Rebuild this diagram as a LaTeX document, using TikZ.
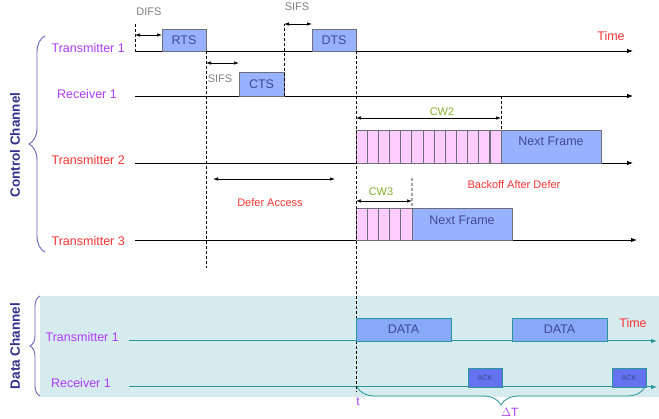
\documentclass[tikz,border=0pt]{standalone}
\usepackage{fontspec}
\setmainfont{Liberation Sans}
\usetikzlibrary{positioning,arrows.meta,decorations.pathreplacing}
\definecolor{lblpurple}{RGB}{175,60,250}
\definecolor{lblred}{RGB}{250,50,50}
\definecolor{lblgreen}{RGB}{135,175,45}
\definecolor{lblgray}{RGB}{128,128,128}
\definecolor{chanblue}{RGB}{50,50,140}
\definecolor{bracecol}{RGB}{100,100,185}
\definecolor{framefill}{RGB}{153,178,255}
\definecolor{framedraw}{RGB}{110,110,120}
\definecolor{boxtext}{RGB}{64,72,150}
\definecolor{slotpink}{RGB}{255,204,255}
\definecolor{databg}{RGB}{214,235,238}
\definecolor{datateal}{RGB}{40,150,150}
\definecolor{datafill}{RGB}{136,168,248}
\definecolor{ackfill}{RGB}{100,115,240}
\tikzset{
  axis/.style={line width=0.8pt, -{Latex[length=6pt,width=4.5pt]}},
  dataaxis/.style={axis, draw=datateal, line width=1pt},
  frame/.style={draw=framedraw, fill=framefill, line width=0.8pt, inner sep=0pt, outer sep=0pt,
    anchor=south west, text=boxtext, font=\fontsize{12.5}{14}\selectfont},
  dataframe/.style={frame, draw=datateal, fill=datafill},
  ackframe/.style={frame, draw=datateal, fill=ackfill, font=\fontsize{7.5}{9}\selectfont},
  slot/.style={draw=framedraw, fill=slotpink, line width=0.7pt, inner sep=0pt, outer sep=0pt, anchor=south west},
  span/.style={{Latex[length=5pt,width=3.5pt]}-{Latex[length=5pt,width=3.5pt]}, line width=0.7pt},
  guide/.style={dash pattern=on 3pt off 2pt, line width=0.6pt},
  rowlbl/.style={anchor=east, inner sep=0pt, font=\fontsize{12.5}{14}\selectfont},
  smalllbl/.style={inner sep=0pt, font=\fontsize{11}{13}\selectfont},
  frametext/.style={inner sep=0pt, text=boxtext, font=\fontsize{12.5}{14}\selectfont},
  chanlbl/.style={rotate=90, inner sep=0pt, text=chanblue, font=\bfseries\fontsize{13.5}{15}\selectfont},
  chanbrace/.style={draw=bracecol, line width=0.9pt, decorate}
}
\begin{document}
\begin{tikzpicture}[x=1pt,y=-1pt]
  \useasboundingbox (0,0) rectangle (659,419);
  % data channel background
  \fill[databg] (40,296) rectangle (659,397);

  % control channel time axes
  \coordinate (ct1a) at (135,51);  \coordinate (ct1b) at (633,51);
  \coordinate (cr1a) at (135,96);  \coordinate (cr1b) at (633,96);
  \coordinate (ct2a) at (135,163); \coordinate (ct2b) at (633,163);
  \coordinate (ct3a) at (135,240); \coordinate (ct3b) at (637,240);
  \draw[axis] (ct1a) -- (ct1b);
  \draw[axis] (cr1a) -- (cr1b);
  \draw[axis] (ct2a) -- (ct2b);
  \draw[axis] (ct3a) -- (ct3b);

  % data channel time axes
  \coordinate (dt1a) at (129,341); \coordinate (dt1b) at (657,341);
  \coordinate (dr1a) at (129,387); \coordinate (dr1b) at (657,387);
  \draw[dataaxis] (dt1a) -- (dt1b);
  \draw[dataaxis] (dr1a) -- (dr1b);

  % row labels
  \node[rowlbl, text=lblpurple] (ct1) at (125,48) {Transmitter 1};
  \node[rowlbl, text=lblpurple] (cr1) at (117,94) {Receiver 1};
  \node[rowlbl, text=lblred] (ct2) at (125,160) {Transmitter 2};
  \node[rowlbl, text=lblred] (ct3) at (125,241) {Transmitter 3};
  \node[rowlbl, text=lblpurple] (dt1) at (119,337) {Transmitter 1};
  \node[rowlbl, text=lblpurple] (dr1) at (111,383) {Receiver 1};

  % control frames
  \node[frame, minimum width=44pt, minimum height=22pt] (rts) at (162,51) {RTS};
  \node[frame, minimum width=45pt, minimum height=24pt] (cts) at (239,96) {CTS};
  \node[frame, minimum width=44pt, minimum height=22pt] (dts) at (312,51) {DTS};

  % backoff slots
  \foreach \i in {0,...,12}
    \node[slot, minimum width=11.15pt, minimum height=33pt] (sa\i) at ({356+\i*145/13},163) {};
  \foreach \i in {0,...,4}
    \node[slot, minimum width=11.2pt, minimum height=32pt] (sb\i) at ({356+\i*11.2},240) {};
  \node[frame, minimum width=100pt, minimum height=33pt] (nf2) at (sa12.south east) {};
  \node[frametext] (nf2t) at ([yshift=5pt]nf2.center) {Next Frame};
  \node[frame, minimum width=100pt, minimum height=32pt] (nf3) at (sb4.south east) {};
  \node[frametext] (nf3t) at ([yshift=4pt]nf3.center) {Next Frame};

  % guides
  \coordinate (difs) at (135,24);
  \draw[guide] (difs) -- (ct1a);
  \draw[guide] (rts.south east) -- (206,268);
  \draw[guide] (cts.south east) -- (284,24);
  \draw[guide] (dts.south east) -- (356,392);
  \draw[guide] (cr1b -| sa12.north east) -- (sa12.north east);
  \draw[guide] (412,178) -- (sb4.north east);

  % intervals
  \draw[span] (135,35) -- (rts.west |- 0,35);
  \draw[span] (206,63) -- (cts.west |- 0,63);
  \draw[span] (284,24) -- (dts.west |- 0,24);
  \draw[span] (356,118) -- (501,118);
  \draw[span] (213,179) -- (335,179);
  \draw[span] (356,201) -- (412,201);

  % interval labels
  \node[smalllbl, text=lblgray] (difsl) at (149,12) {DIFS};
  \node[smalllbl, text=lblgray] (sifsa) at (220,79) {SIFS};
  \node[smalllbl, text=lblgray] (sifsb) at (297,7) {SIFS};
  \node[smalllbl, text=lblgreen] (cw2) at (442,112) {CW2};
  \node[smalllbl, text=lblgreen] (cw3) at (381,192) {CW3};
  \node[smalllbl, text=lblred] (defer) at (270,203) {Defer Access};
  \node[smalllbl, text=lblred] (backoff) at (514,185) {Backoff After Defer};
  \node[smalllbl, text=lblred, font=\fontsize{12.5}{14}\selectfont] (time1) at (611,36) {Time};

  % data frames
  \node[dataframe, minimum width=95pt, minimum height=23pt] (data1) at (356,341) {DATA};
  \node[dataframe, minimum width=95pt, minimum height=23pt] (data2) at (512,341) {DATA};
  \node[ackframe, minimum width=34pt, minimum height=19pt] (ack1) at (468,387) {ACK};
  \node[ackframe, minimum width=34pt, minimum height=19pt] (ack2) at (612,387) {ACK};
  \node[smalllbl, text=lblred, font=\fontsize{12.5}{14}\selectfont] (time2) at (633,323) {Time};

  % braces
  \draw[chanbrace, decoration={brace, amplitude=16pt, aspect=0.5}] (45,252) -- (45,36);
  \draw[chanbrace, decoration={brace, amplitude=10pt, aspect=0.5}] (40,396) -- (40,296);
  \draw[chanbrace, draw=datateal, line width=0.8pt, decoration={brace, amplitude=18pt}] (645,387) -- (357,387);
  \node[chanlbl] (ctrl) at (15,145) {Control Channel};
  \node[chanlbl] (datac) at (15,346) {Data Channel};
  \node[smalllbl, text=lblpurple, font=\fontsize{12}{14}\selectfont] (tmark) at (358,402) {t};
  \node[smalllbl, text=lblpurple, font=\fontsize{12}{14}\selectfont] (dT) at (510,412) {$\Delta$T};
\end{tikzpicture}
\end{document}
